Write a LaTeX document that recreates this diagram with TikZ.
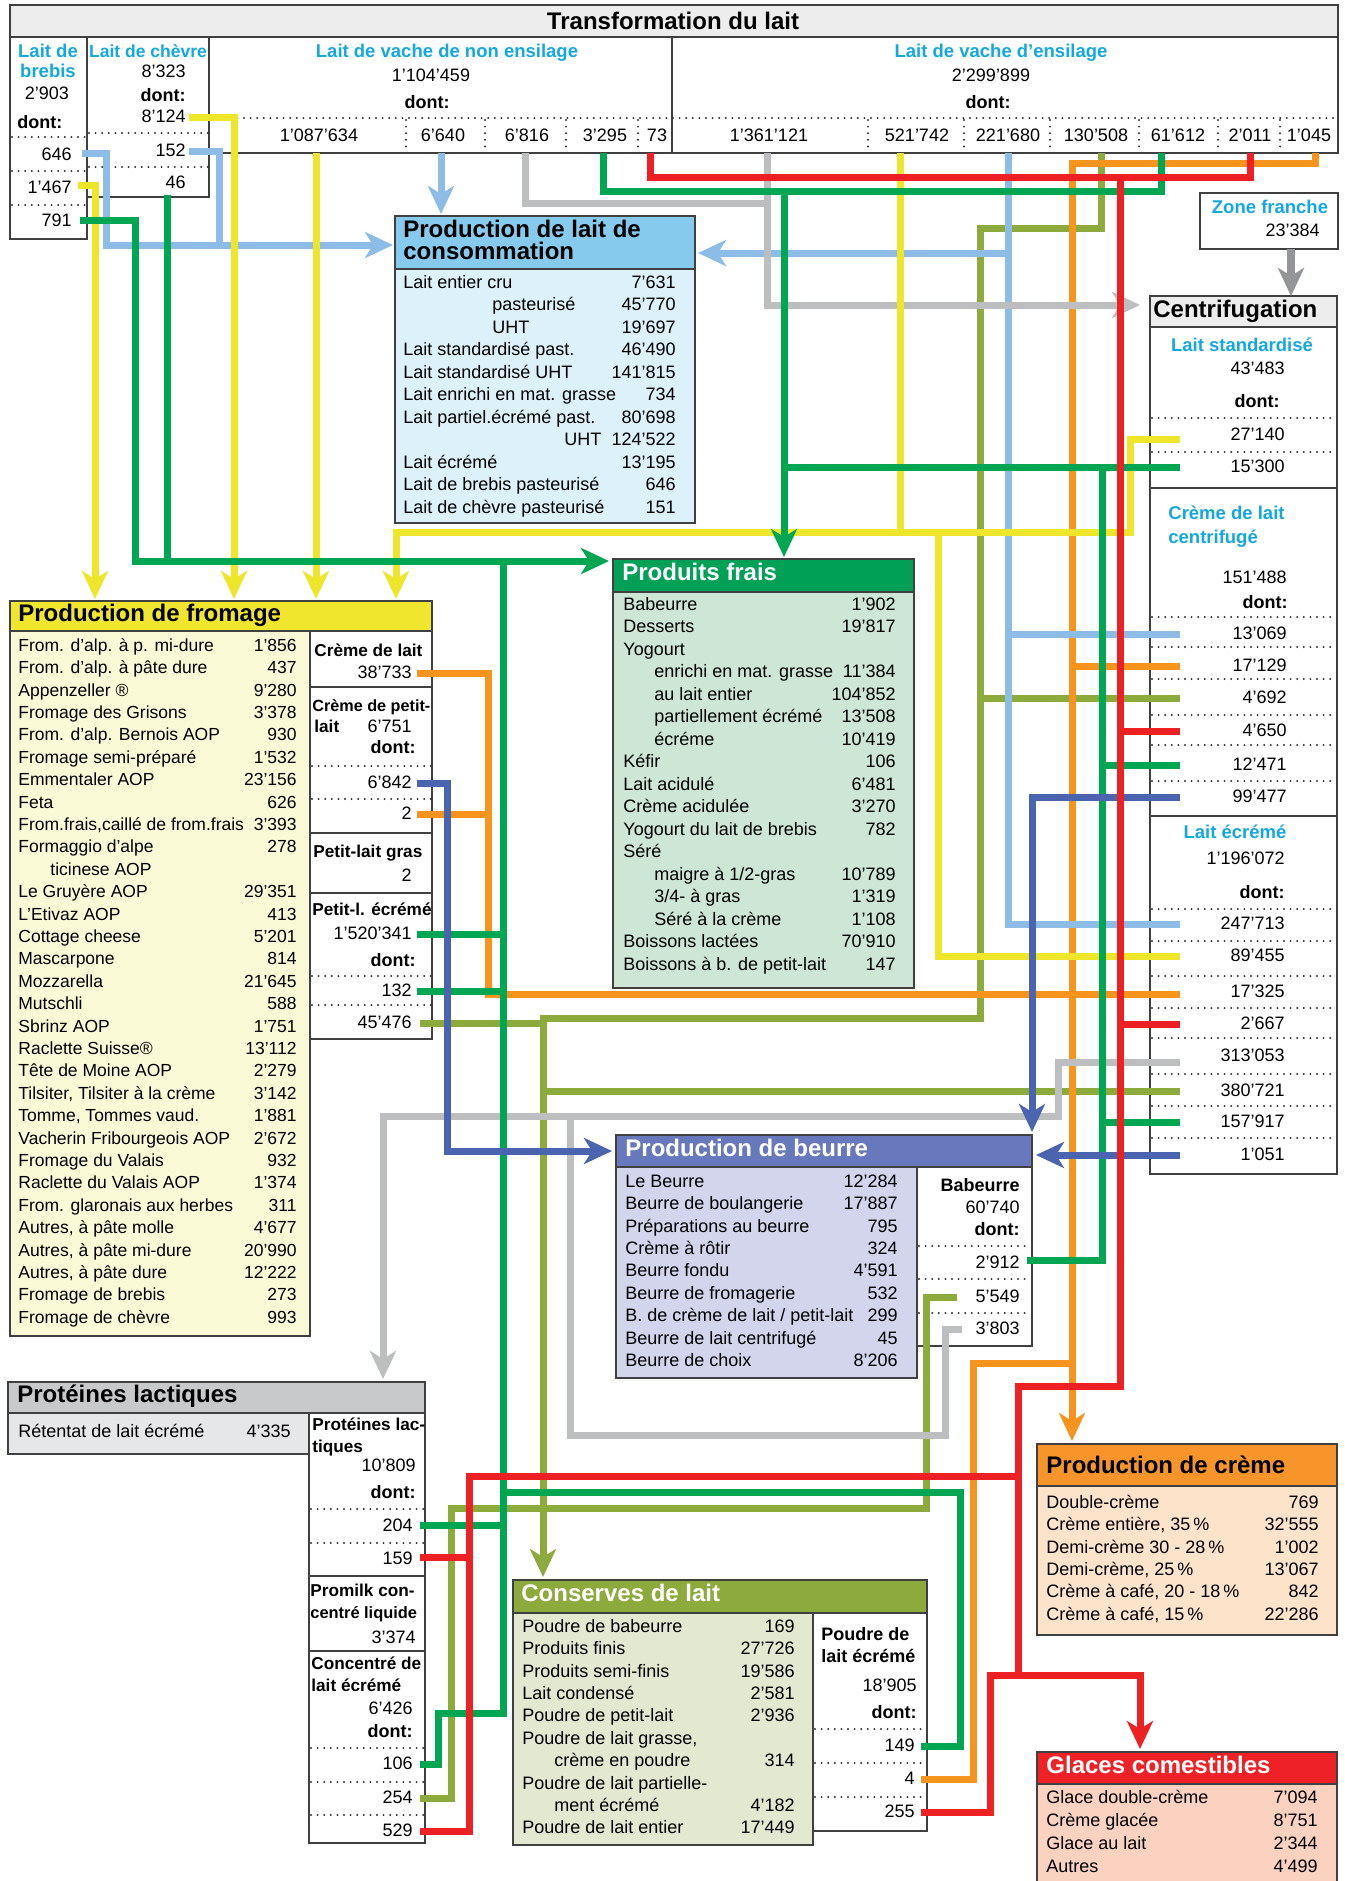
\documentclass[tikz,border=0pt]{standalone}
\usepackage{fontspec}
\setmainfont{Liberation Sans}
\usetikzlibrary{arrows.meta}
\definecolor{cyanT}{HTML}{14A8E0}
\definecolor{cYel}{HTML}{EEE62B}
\definecolor{cLBlue}{HTML}{8DBDE6}
\definecolor{cGray}{HTML}{BCBEC0}
\definecolor{cDGray}{HTML}{939598}
\definecolor{cGreen}{HTML}{00A651}
\definecolor{cRed}{HTML}{ED2024}
\definecolor{cOrange}{HTML}{F7941D}
\definecolor{cOlive}{HTML}{8DAA3C}
\definecolor{cDBlue}{HTML}{4A64B0}
\definecolor{hdrGray}{HTML}{EDEDED}
\definecolor{laitHdr}{HTML}{86CBED}
\definecolor{laitBody}{HTML}{DDF1FB}
\definecolor{fromHdr}{HTML}{F0E62E}
\definecolor{fromBody}{HTML}{FBFAD6}
\definecolor{fraisHdr}{HTML}{00A057}
\definecolor{fraisBody}{HTML}{CDE6D5}
\definecolor{beurreHdr}{HTML}{6878BD}
\definecolor{beurreBody}{HTML}{D2D5EC}
\definecolor{protHdr}{HTML}{C8C9CB}
\definecolor{protBody}{HTML}{E6E7E8}
\definecolor{consHdr}{HTML}{8DAA3D}
\definecolor{consBody}{HTML}{E3E8D1}
\definecolor{cremeHdr}{HTML}{F7952B}
\definecolor{cremeBody}{HTML}{FDE3CA}
\definecolor{glaceHdr}{HTML}{EE2226}
\definecolor{glaceBody}{HTML}{FBD2C0}
\newcommand\fs{\fontsize{9}{11}\selectfont}
\newcommand\fsm{\fontsize{8.75}{10.5}\selectfont}
\newcommand\fsb{\bfseries\fontsize{8.6}{10}\selectfont}
\newcommand\fsh{\bfseries\fontsize{12}{14}\selectfont}
\tikzset{
 box/.style={draw=black!75, line width=0.8pt},
 tl/.style={font=\fs, inner sep=0pt, anchor=mid west},
 tr/.style={font=\fs, inner sep=0pt, anchor=mid east},
 tc/.style={font=\fs, inner sep=0pt, anchor=mid},
 bl/.style={font=\fsb, inner sep=0pt, anchor=mid west},
 br/.style={font=\fsb, inner sep=0pt, anchor=mid east},
 dl/.style={font=\bfseries\fs, inner sep=0pt, anchor=mid west},
 dr/.style={font=\bfseries\fs, inner sep=0pt, anchor=mid east},
 dc/.style={font=\bfseries\fs, inner sep=0pt, anchor=mid},
 hd/.style={font=\fsh, inner sep=0pt, anchor=mid west},
 cy/.style={font=\bfseries\fontsize{9.25}{11}\selectfont, text=cyanT, inner sep=0pt, anchor=mid},
 dots/.style={line width=1.1pt, dash pattern=on 0pt off 3.3pt, line cap=round, draw=black!80},
 ln/.style={line width=3.5pt},
 arr/.style={-{Stealth[length=14pt,width=13pt,inset=4pt]}},
}
\begin{document}
\begin{tikzpicture}[x=0.5pt,y=-0.5pt]
\useasboundingbox (0,0) rectangle (1345,1881);
\fill[white] (0,0) rectangle (1345,1881);

% ================= TOP TABLE =================
\draw[box,fill=hdrGray] (10,5) rectangle (1338,37);
\node[font=\fsh, inner sep=0pt] (title) at (673,21) {Transformation du lait};
\draw[box] (10,37) rectangle (87,239);
\draw[box] (87,37) rectangle (209,197);
\draw[box] (209,37) rectangle (672,153);
\draw[box] (672,37) rectangle (1338,153);
\foreach \y in {137,171,205} \draw[dots] (12,\y) -- (86,\y);
\foreach \y in {133,167} \draw[dots] (89,\y) -- (208,\y);
\draw[dots] (211,118) -- (1337,118);
\foreach \x in {406,485,566,638,868,964,1050,1139,1218,1280} \draw[dots] (\x,120) -- (\x,152);
% brebis
\node[cy] (bre1) at (48,52) {Lait de};
\node[cy] (bre2) at (48,72) {brebis};
\node[tc] (bre3) at (47,94) {2’903};
\node[dl] (bre4) at (17,123) {dont:};
\node[tr] (b646) at (72,155) {646};
\node[tr] (b1467) at (72,188) {1’467};
\node[tr] (b791) at (72,221) {791};
% chevre
\node[cy, font=\bfseries\fontsize{8.75}{10}\selectfont] (che1) at (148,52) {Lait de chèvre};
\node[tr] (che2) at (186,72) {8’323};
\node[dr] (che3) at (186,96) {dont:};
\node[tr] (c8124) at (186,117) {8’124};
\node[tr] (c152) at (186,151) {152};
\node[tr] (c46) at (186,183) {46};
% non ensilage
\node[cy] (ne1) at (447,52) {Lait de vache de non ensilage};
\node[tc] (ne2) at (431,76) {1’104’459};
\node[dc] (ne3) at (427,103) {dont:};
\node[tc] (n1) at (319,136) {1’087’634};
\node[tc] (n2) at (443,136) {6’640};
\node[tc] (n3) at (527,136) {6’816};
\node[tc] (n4) at (605,136) {3’295};
\node[tc] (n5) at (657,136) {73};
% ensilage
\node[cy] (en1) at (1001,52) {Lait de vache d’ensilage};
\node[tc] (en2) at (991,76) {2’299’899};
\node[dc] (en3) at (988,103) {dont:};
\node[tc] (e1) at (769,136) {1’361’121};
\node[tc] (e2) at (917,136) {521’742};
\node[tc] (e3) at (1008,136) {221’680};
\node[tc] (e4) at (1096,136) {130’508};
\node[tc] (e5) at (1178,136) {61’612};
\node[tc] (e6) at (1250,136) {2’011};
\node[tc] (e7) at (1309,136) {1’045};

% ================= ZONE FRANCHE =================
\draw[box] (1200,193) rectangle (1338,249);
\node[cy] (zf1) at (1270,208) {Zone franche};
\node[tr] (zf2) at (1320,231) {23’384};

% ================= PRODUCTION LAIT =================
\draw[box,fill=laitHdr] (395,216) rectangle (695,269);
\draw[box,fill=laitBody] (395,269) rectangle (695,523);
\node[hd] (lait1) at (403,232) {Production de lait de};
\node[hd] (lait2) at (403,254) {consommation};
\foreach \x/\a/\b [count=\i from 0] in {403/Lait entier cru/7’631,492/pasteurisé/45’770,492/UHT/19’697,403/Lait standardisé past./46’490,403/Lait standardisé UHT/141’815,403/Lait enrichi en mat. grasse/734,403/Lait partiel.écrémé past./80’698,564/UHT/124’522,403/Lait écrémé/13’195,403/Lait de brebis pasteurisé/646,403/Lait de chèvre pasteurisé/151}{
 \node[tl] (la\i) at (\x,{283+22.5*\i}) {\a};
 \node[tr] (lb\i) at (676,{283+22.5*\i}) {\b};
}

% ================= CENTRIFUGATION =================
\draw[box,fill=white] (1150,296) rectangle (1337,1174);
\draw[box,fill=hdrGray] (1150,296) rectangle (1337,327);
\node[hd] (ce0) at (1153,312) {Centrifugation};
\node[cy] (ce1) at (1242,346) {Lait standardisé};
\node[tr] (ce2) at (1285,369) {43’483};
\node[dr] (ce3) at (1280,402) {dont:};
\foreach \y in {418,452} \draw[dots] (1152,\y) -- (1336,\y);
\node[tr] (ce4) at (1285,435) {27’140};
\node[tr] (ce5) at (1285,467) {15’300};
\draw[box] (1150,488) -- (1337,488);
\node[cy, anchor=mid west] (cc1) at (1168,514) {Crème de lait};
\node[cy, anchor=mid west] (cc2) at (1168,538) {centrifugé};
\node[tr] (cc3) at (1287,578) {151’488};
\node[dr] (cc4) at (1288,603) {dont:};
\foreach \y in {617,647,679,715,745,781} \draw[dots] (1152,\y) -- (1336,\y);
\foreach \y/\v [count=\i] in {634/13’069,666/17’129,698/4’692,731/4’650,765/12’471,797/99’477}
 \node[tr] (cv\i) at (1287,\y) {\v};
\draw[box] (1150,816) -- (1337,816);
\node[cy] (cl1) at (1235,833) {Lait écrémé};
\node[tr] (cl2) at (1285,859) {1’196’072};
\node[dr] (cl3) at (1285,893) {dont:};
\foreach \y in {909,941,976,1008,1038,1074,1106,1138} \draw[dots] (1152,\y) -- (1336,\y);
\foreach \y/\v [count=\i] in {924/247’713,956/89’455,992/17’325,1024/2’667,1056/313’053,1091/380’721,1122/157’917,1155/1’051}
 \node[tr] (cw\i) at (1285,\y) {\v};

% ================= FROMAGE =================
\draw[box,fill=fromHdr] (10,601) rectangle (432,631);
\draw[box,fill=fromBody] (10,631) rectangle (310,1336);
\draw[box,fill=white] (310,631) rectangle (432,687);
\draw[box,fill=white] (310,687) rectangle (432,833);
\draw[box,fill=white] (310,833) rectangle (432,893);
\draw[box,fill=white] (310,893) rectangle (432,1039);
\node[hd] (fro0) at (18,616) {Production de fromage};
\foreach \x/\a/\b [count=\i from 0] in {18/From. d’alp. à p. mi-dure/1’856,18/From. d’alp. à pâte dure/437,18/Appenzeller ®/9’280,18/Fromage des Grisons/3’378,18/From. d’alp. Bernois AOP/930,18/Fromage semi-préparé/1’532,18/Emmentaler AOP/23’156,18/Feta/626,18/{From.frais,caillé de from.frais}/3’393,18/Formaggio d’alpe/278,50/ticinese AOP/{},18/Le Gruyère AOP/29’351,18/L’Etivaz AOP/413,18/Cottage cheese/5’201,18/Mascarpone/814,18/Mozzarella/21’645,18/Mutschli/588,18/Sbrinz AOP/1’751,18/Raclette Suisse®/13’112,18/Tête de Moine AOP/2’279,18/{Tilsiter, Tilsiter à la crème}/3’142,18/{Tomme, Tommes vaud.}/1’881,18/Vacherin Fribourgeois AOP/2’672,18/Fromage du Valais/932,18/Raclette du Valais AOP/1’374,18/From. glaronais aux herbes/311,18/{Autres, à pâte molle}/4’677,18/{Autres, à pâte mi-dure}/20’990,18/{Autres, à pâte dure}/12’222,18/Fromage de brebis/273,18/Fromage de chèvre/993}{
 \node[tl, font=\fsm] (fa\i) at (\x,{646+22.4*\i}) {\a};
 \node[tr, font=\fsm] (fb\i) at (297,{646+22.4*\i}) {\b};
}
\node[bl] (fs1) at (314,651) {Crème de lait};
\node[tr] (fs2) at (412,673) {38’733};
\node[bl, font=\bfseries\fontsize{8.1}{10}\selectfont] (fs3) at (312,706) {Crème de petit-};
\node[bl] (fs4) at (314,727) {lait};
\node[tr] (fs5) at (412,727) {6’751};
\node[dr] (fs6) at (416,748) {dont:};
\draw[dots] (312,766) -- (431,766);
\node[tr] (fs7) at (412,783) {6’842};
\draw[dots] (312,799) -- (431,799);
\node[tr] (fs8) at (412,814) {2};
\node[bl] (fs9) at (313,852) {Petit-lait gras};
\node[tr] (fs10) at (412,876) {2};
\node[bl] (fs11) at (312,910) {Petit-l. écrémé};
\node[tr] (fs12) at (412,934) {1’520’341};
\node[dr] (fs13) at (416,961) {dont:};
\draw[dots] (312,976) -- (431,976);
\node[tr] (fs14) at (412,991) {132};
\draw[dots] (312,1005) -- (431,1005);
\node[tr] (fs15) at (412,1023) {45’476};

% ================= PRODUITS FRAIS =================
\draw[box,fill=fraisHdr] (613,559) rectangle (914,592);
\draw[box,fill=fraisBody] (613,592) rectangle (914,988);
\node[hd, text=white] (pf0) at (622,575) {Produits frais};
\foreach \x/\a/\b [count=\i from 0] in {623/Babeurre/1’902,623/Desserts/19’817,623/Yogourt/{},654/enrichi en mat. grasse/11’384,654/au lait entier/104’852,654/partiellement écrémé/13’508,654/écréme/10’419,623/Kéfir/106,623/Lait acidulé/6’481,623/Crème acidulée/3’270,623/Yogourt du lait de brebis/782,623/Séré/{},654/{maigre à 1/2-gras}/10’789,654/{3/4- à gras}/1’319,654/Séré à la crème/1’108,623/Boissons lactées/70’910,623/Boissons à b. de petit-lait/147}{
 \node[tl] (pa\i) at (\x,{605+22.5*\i}) {\a};
 \node[tr] (pb\i) at (896,{605+22.5*\i}) {\b};
}

% ================= BEURRE =================
\draw[box,fill=beurreHdr] (616,1135) rectangle (1032,1167);
\draw[box,fill=beurreBody] (616,1167) rectangle (917,1378);
\draw[box,fill=white] (917,1167) rectangle (1032,1346);
\node[hd, text=white] (be0) at (625,1151) {Production de beurre};
\foreach \a/\b [count=\i from 0] in {Le Beurre/12’284,Beurre de boulangerie/17’887,Préparations au beurre/795,Crème à rôtir/324,Beurre fondu/4’591,Beurre de fromagerie/532,{B. de crème de lait / petit-lait}/299,Beurre de lait centrifugé/45,Beurre de choix/8’206}{
 \node[tl] (ba\i) at (625,{1182+22.4*\i}) {\a};
 \node[tr] (bb\i) at (898,{1182+22.4*\i}) {\b};
}
\node[br, font=\bfseries\fs] (bs1) at (1020,1186) {Babeurre};
\node[tr] (bs2) at (1020,1208) {60’740};
\node[dr] (bs3) at (1020,1230) {dont:};
\foreach \y in {1246,1279,1313} \draw[dots] (919,\y) -- (1031,\y);
\node[tr] (bs4) at (1020,1263) {2’912};
\node[tr] (bs5) at (1020,1297) {5’549};
\node[tr] (bs6) at (1020,1329) {3’803};

% ================= PROTEINES =================
\draw[box,fill=protHdr] (8,1382) rectangle (425,1413);
\draw[box,fill=protBody] (8,1413) rectangle (309,1454);
\draw[box,fill=white] (309,1413) rectangle (425,1576);
\draw[box,fill=white] (309,1576) rectangle (425,1651);
\draw[box,fill=white] (309,1651) rectangle (425,1843);
\node[hd] (pr0) at (17,1397) {Protéines lactiques};
\node[tl] (pr1) at (18,1432) {Rétentat de lait écrémé};
\node[tr] (pr2) at (291,1432) {4’335};
\node[bl] (ps1) at (312,1425) {Protéines lac-};
\node[bl] (ps2) at (312,1447) {tiques};
\node[tr] (ps3) at (416,1466) {10’809};
\node[dr] (ps4) at (416,1493) {dont:};
\draw[dots] (311,1509) -- (424,1509);
\node[tr] (ps5) at (413,1526) {204};
\draw[dots] (311,1543) -- (424,1543);
\node[tr] (ps6) at (413,1559) {159};
\node[bl] (ps7) at (310,1591) {Promilk con-};
\node[bl, font=\bfseries\fontsize{8.2}{10}\selectfont] (ps8) at (310,1613) {centré liquide};
\node[tr] (ps9) at (416,1638) {3’374};
\node[bl] (ps10) at (311,1664) {Concentré de};
\node[bl] (ps11) at (311,1686) {lait écrémé};
\node[tr] (ps12) at (413,1709) {6’426};
\node[dr] (ps13) at (413,1732) {dont:};
\foreach \y in {1748,1782,1815} \draw[dots] (311,\y) -- (424,\y);
\node[tr] (ps14) at (413,1764) {106};
\node[tr] (ps15) at (413,1798) {254};
\node[tr] (ps16) at (413,1831) {529};

% ================= CONSERVES =================
\draw[box,fill=consHdr] (513,1580) rectangle (927,1613);
\draw[box,fill=consBody] (513,1613) rectangle (813,1845);
\draw[box,fill=white] (813,1613) rectangle (927,1831);
\node[hd, text=white] (co0) at (521,1596) {Conserves de lait};
\foreach \x/\a/\b [count=\i from 0] in {522/Poudre de babeurre/169,522/Produits finis/27’726,522/Produits semi-finis/19’586,522/Lait condensé/2’581,522/Poudre de petit-lait/2’936,522/{Poudre de lait grasse,}/{},554/crème en poudre/314,522/Poudre de lait partielle-/{},554/ment écrémé/4’182,522/Poudre de lait entier/17’449}{
 \node[tl] (ca\i) at (\x,{1627+22.4*\i}) {\a};
 \node[tr] (cb\i) at (795,{1627+22.4*\i}) {\b};
}
\node[bl, font=\bfseries\fs] (cs1) at (821,1635) {Poudre de};
\node[bl, font=\bfseries\fs] (cs2) at (821,1657) {lait écrémé};
\node[tr] (cs3) at (917,1686) {18’905};
\node[dr] (cs4) at (917,1713) {dont:};
\foreach \y in {1729,1763,1797} \draw[dots] (815,\y) -- (926,\y);
\node[tr] (cs5) at (915,1746) {149};
\node[tr] (cs6) at (915,1779) {4};
\node[tr] (cs7) at (915,1812) {255};

% ================= CREME =================
\draw[box,fill=cremeHdr] (1037,1444) rectangle (1337,1486);
\draw[box,fill=cremeBody] (1037,1486) rectangle (1337,1635);
\node[hd] (cr0) at (1046,1468) {Production de crème};
\foreach \a/\b [count=\i from 0] in {Double-crème/769,{Crème entière, 35\,\%}/32’555,Demi-crème 30 - 28\,\%/1’002,{Demi-crème, 25\,\%}/13’067,{Crème à café, 20 - 18\,\%}/842,{Crème à café, 15\,\%}/22’286}{
 \node[tl] (cra\i) at (1046,{1503+22.4*\i}) {\a};
 \node[tr] (crb\i) at (1319,{1503+22.4*\i}) {\b};
}

% ================= GLACES =================
\draw[box,fill=glaceHdr] (1037,1752) rectangle (1337,1784);
\draw[box,fill=glaceBody] (1037,1784) rectangle (1337,1882);
\node[hd, text=white] (gl0) at (1046,1768) {Glaces comestibles};
\foreach \a/\b [count=\i from 0] in {Glace double-crème/7’094,Crème glacée/8’751,Glace au lait/2’344,Autres/4’499}{
 \node[tl] (gla\i) at (1046,{1798+22.9*\i}) {\a};
 \node[tr] (glb\i) at (1318,{1798+22.9*\i}) {\b};
}

% ================= CONNECTORS =================
% olive
\draw[ln,cOlive,arr] (1101,153) -- (1101,228) -- (980,228) -- (980,1018) -- (543,1018) -- (543,1577);
\draw[ln,cOlive] (1180,698) -- (980,698);
\draw[ln,cOlive] (1180,1091) -- (543,1091);
\draw[ln,cOlive] (420,1023) -- (543,1023);
\draw[ln,cOlive] (957,1297) -- (926,1297) -- (926,1508) -- (451,1508) -- (451,1798) -- (420,1798);
% orange
\draw[ln,cOrange] (1180,666) -- (1072,666);
\draw[ln,cOrange] (1180,994) -- (488,994) -- (488,673) -- (417,673);
\draw[ln,cOrange] (417,814) -- (488,814);
\draw[ln,cOrange] (921,1779) -- (973,1779) -- (973,1363) -- (1072,1363);
\draw[ln,cOrange,arr] (1315,153) -- (1315,163) -- (1072,163) -- (1072,1441);
% light blue
\draw[ln,cLBlue,arr] (82,153) -- (106,153) -- (106,245) -- (393,245);
\draw[ln,cLBlue] (189,151) -- (219,151) -- (219,245);
\draw[ln,cLBlue,arr] (441,153) -- (441,214);
\draw[ln,cLBlue] (1180,634) -- (1008,634);
\draw[ln,cLBlue] (1008,153) -- (1008,924) -- (1180,924);
\draw[ln,cLBlue,arr] (1008,253) -- (698,253);
% gray
\draw[ln,cGray] (525,153) -- (525,203) -- (767,203);
\draw[ln,cGray,arr] (767,153) -- (767,305) -- (1140,305);
\draw[ln,cGray,arr] (1180,1062) -- (1058,1062) -- (1058,1116) -- (383,1116) -- (383,1379);
\draw[ln,cGray] (962,1329) -- (945,1329) -- (945,1435) -- (570,1435) -- (570,1116);
\draw[line width=4pt,cDGray,arr] (1291,249) -- (1291,296);
% yellow
\draw[ln,cYel,arr] (78,185) -- (95,185) -- (95,599);
\draw[ln,cYel,arr] (189,117) -- (234,117) -- (234,599);
\draw[ln,cYel,arr] (316,153) -- (316,599);
\draw[ln,cYel,arr] (1180,439) -- (1130,439) -- (1130,532) -- (396,532) -- (396,599);
\draw[ln,cYel] (900,153) -- (900,532);
\draw[ln,cYel] (1180,956) -- (938,956) -- (938,532);
% green
\draw[ln,cGreen,arr] (80,220) -- (135,220) -- (135,561) -- (609,561);
\draw[ln,cGreen] (167,195) -- (167,561);
\draw[ln,cGreen] (603,153) -- (603,191) -- (1161,191) -- (1161,153);
\draw[ln,cGreen,arr] (784,191) -- (784,557);
\draw[ln,cGreen] (784,467) -- (1180,467);
\draw[ln,cGreen] (1180,765) -- (1102,765);
\draw[ln,cGreen] (1180,1122) -- (1102,1122);
\draw[ln,cGreen] (1102,467) -- (1102,1260) -- (1027,1260);
\draw[ln,cGreen] (417,934) -- (503,934);
\draw[ln,cGreen] (417,991) -- (503,991);
\draw[ln,cGreen] (420,1525) -- (503,1525);
\draw[ln,cGreen] (503,561) -- (503,1713) -- (438,1713) -- (438,1764) -- (420,1764);
\draw[ln,cGreen] (503,1492) -- (960,1492) -- (960,1746) -- (921,1746);
% dark blue
\draw[ln,cDBlue,arr] (417,783) -- (447,783) -- (447,1151) -- (612,1151);
\draw[ln,cDBlue,arr] (1180,797) -- (1032,797) -- (1032,1132);
\draw[ln,cDBlue,arr] (1180,1155) -- (1036,1155);
% red
\draw[ln,cRed] (650,153) -- (650,177) -- (1250,177) -- (1250,153);
\draw[ln,cRed] (1180,731) -- (1120,731);
\draw[ln,cRed] (1180,1024) -- (1120,1024);
\draw[ln,cRed] (420,1557) -- (469,1557);
\draw[ln,cRed] (420,1831) -- (469,1831) -- (469,1476) -- (1018,1476);
\draw[ln,cRed] (921,1812) -- (990,1812) -- (990,1675) -- (1018,1675);
\draw[ln,cRed,arr] (1120,177) -- (1120,1386) -- (1018,1386) -- (1018,1675) -- (1140,1675) -- (1140,1749);
\end{tikzpicture}
\end{document}
